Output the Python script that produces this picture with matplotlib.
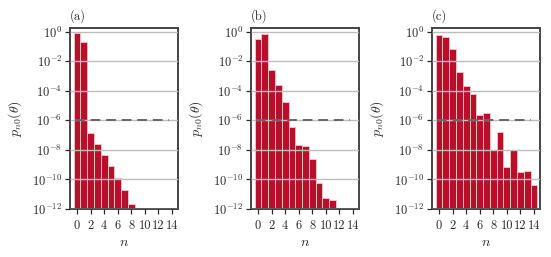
import numpy as np
import matplotlib
matplotlib.use("Agg")
import matplotlib.pyplot as plt
from matplotlib.ticker import NullLocator, FixedLocator

plt.rcParams['font.family'] = 'serif'
plt.rcParams['font.serif'] = ['cmr10']
plt.rcParams['mathtext.fontset'] = 'cm'
plt.rcParams['axes.formatter.use_mathtext'] = True

n = np.arange(15)
# log10 of p_n0(theta); nan = no visible bar
log_a = [-0.07, -0.72, -6.85, -7.57, -8.31, -9.07, -9.88, -10.70, -11.66,
         np.nan, np.nan, np.nan, np.nan, np.nan, np.nan]
log_b = [-0.49, -0.155, -2.61, -3.60, -4.75, -6.46, -7.70, -7.74, -8.62,
         -10.27, -11.28, -11.37, np.nan, np.nan, np.nan]
log_c = [-0.24, -0.33, -1.19, -2.72, -3.69, -4.21, -5.66, -5.49, -8.01,
         -6.78, -9.14, -8.03, -9.48, -9.41, -10.38]
panels = ['(a)', '(b)', '(c)']
threshold = 1e-6
yticks = [1e0, 1e-2, 1e-4, 1e-6, 1e-8, 1e-10, 1e-12]
xticks = [0, 2, 4, 6, 8, 10, 12, 14]

fig = plt.figure(figsize=(5.51, 2.57), dpi=100)
lefts = [70 / 551, 251 / 551, 432 / 551]
bottom = 1 - 209 / 257
height = (209 - 28) / 257
width = 108 / 551

bar_color = '#b8102a'
text_color = '#2a2a2a'
for left, logs, lab in zip(lefts, [log_a, log_b, log_c], panels):
    ax = fig.add_axes([left, bottom, width, height])
    vals = 10.0 ** np.array(logs, dtype=float)
    ax.bar(n, vals, width=1.0, color=bar_color, edgecolor='#f2c6cc',
           linewidth=0.6, zorder=1)
    ax.set_yscale('log')
    ax.set_ylim(1e-12, 1.8)
    ax.set_xlim(-1.05, 14.9)
    ax.yaxis.set_major_locator(FixedLocator(yticks))
    ax.yaxis.set_minor_locator(NullLocator())
    ax.set_xticks(xticks)
    ax.set_xticklabels([str(x) for x in xticks])
    ax.set_axisbelow(False)
    ax.yaxis.grid(True, color='#bdbdbd', linewidth=1.0, zorder=2)
    ax.hlines(threshold, -0.3, 13.5, colors='#666666', linestyles=(0, (5, 3)),
              linewidth=1.4, zorder=3)
    for s in ax.spines.values():
        s.set_color('#444444')
        s.set_linewidth(1.4)
    ax.tick_params(axis='both', direction='out', length=3.5, width=0.9,
                   labelsize=9, colors=text_color)
    ax.tick_params(axis='x', pad=4)
    ax.tick_params(axis='y', pad=2)
    ax.set_xlabel(r'$n$', fontsize=10, labelpad=4, color=text_color)
    ax.set_ylabel(r'$p_{n0}(\theta)$', fontsize=10, labelpad=6, color=text_color)
    ax.text(0.0, 1.03, lab, transform=ax.transAxes, fontsize=9,
            ha='left', va='bottom', color=text_color)

fig.savefig('out.png', dpi=100)
